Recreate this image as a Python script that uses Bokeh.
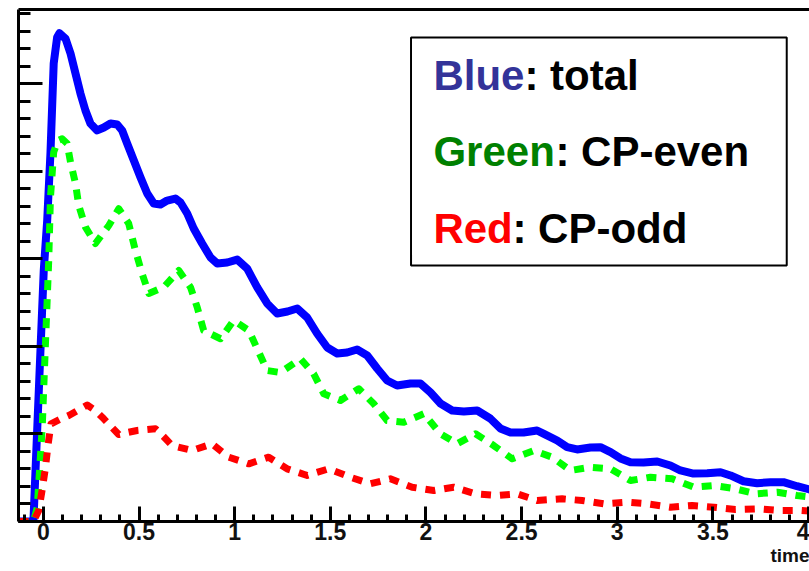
from bokeh.plotting import figure
from bokeh.models import Range1d, LinearAxis, FixedTicker, BoxAnnotation, Label, Title
from bokeh.embed import file_html
from bokeh.resources import INLINE

# ---- data ----
t_total = [-0.13, -0.052, 0.002, 0.020, 0.037, 0.054, 0.072, 0.084, 0.116, 0.142, 0.168,
           0.194, 0.220, 0.246, 0.281, 0.316, 0.351, 0.386, 0.412, 0.438, 0.473, 0.508,
           0.543, 0.577, 0.612, 0.647, 0.690, 0.717, 0.752, 0.786, 0.830, 0.874, 0.909,
           0.961, 1.013, 1.065, 1.118, 1.170, 1.222, 1.276, 1.327, 1.379, 1.431, 1.484,
           1.536, 1.588, 1.640, 1.693, 1.745, 1.797, 1.849, 1.919, 1.971, 2.024, 2.076,
           2.137, 2.198, 2.268, 2.336, 2.389, 2.442, 2.510, 2.581, 2.614, 2.686, 2.738,
           2.790, 2.860, 2.912, 2.965, 3.017, 3.069, 3.137, 3.209, 3.278, 3.330, 3.398,
           3.470, 3.540, 3.592, 3.660, 3.731, 3.801, 3.869, 3.940, 4.005, 4.036]
total = [0, 0, 2.868, 3.439, 4.205, 5.233, 5.534, 5.579, 5.515, 5.347, 5.119,
         4.890, 4.696, 4.548, 4.468, 4.502, 4.548, 4.536, 4.468, 4.319, 4.125, 3.931,
         3.748, 3.633, 3.622, 3.667, 3.690, 3.645, 3.519, 3.348, 3.176, 3.016, 2.948,
         2.959, 2.993, 2.891, 2.674, 2.491, 2.377, 2.399, 2.434, 2.331, 2.148, 1.988,
         1.920, 1.931, 1.965, 1.897, 1.748, 1.611, 1.554, 1.577, 1.577, 1.474, 1.348,
         1.268, 1.257, 1.268, 1.177, 1.063, 1.017, 1.017, 1.040, 1.005, 0.925, 0.849,
         0.823, 0.846, 0.849, 0.792, 0.720, 0.678, 0.674, 0.686, 0.640, 0.583, 0.548,
         0.552, 0.563, 0.526, 0.460, 0.438, 0.449, 0.449, 0.403, 0.366, 0.343]

t_even = [-0.13, -0.052, -0.032, -0.006, 0.011, 0.028, 0.037, 0.054, 0.076, 0.098, 0.124,
          0.142, 0.168, 0.185, 0.220, 0.272, 0.342, 0.394, 0.446, 0.481, 0.516, 0.551,
          0.629, 0.708, 0.769, 0.804, 0.838, 0.926, 0.995, 1.074, 1.118, 1.170, 1.239,
          1.344, 1.413, 1.466, 1.553, 1.649, 1.727, 1.797, 1.884, 1.989, 2.076, 2.163,
          2.259, 2.354, 2.451, 2.564, 2.660, 2.755, 2.860, 2.965, 3.069, 3.174, 3.287,
          3.400, 3.505, 3.618, 3.723, 3.837, 3.940, 4.036]
cp_even = [0, 0, 0.160, 1.074, 2.034, 2.982, 3.702, 4.220, 4.353, 4.373, 4.319,
           4.105, 3.862, 3.611, 3.363, 3.176, 3.382, 3.573, 3.405, 3.097, 2.834, 2.605,
           2.677, 2.868, 2.677, 2.449, 2.182, 2.088, 2.297, 2.182, 1.973, 1.725, 1.702,
           1.859, 1.688, 1.459, 1.383, 1.516, 1.345, 1.154, 1.135, 1.231, 1.002, 0.888,
           1.002, 0.868, 0.716, 0.811, 0.735, 0.583, 0.620, 0.602, 0.468, 0.506, 0.488,
           0.392, 0.411, 0.374, 0.316, 0.335, 0.297, 0.274]

t_odd = [-0.13, -0.052, -0.024, -0.006, 0.011, 0.024, 0.040, 0.084, 0.133, 0.178, 0.229,
         0.272, 0.316, 0.394, 0.440, 0.490, 0.586, 0.628, 0.673, 0.778, 0.882, 0.969,
         1.074, 1.178, 1.274, 1.379, 1.492, 1.605, 1.710, 1.814, 1.928, 2.041, 2.145,
         2.259, 2.372, 2.477, 2.581, 2.712, 2.817, 2.929, 3.052, 3.156, 3.278, 3.392,
         3.505, 3.618, 3.731, 3.844, 3.957, 4.036]
cp_odd = [0, 0, 0.126, 0.366, 0.617, 0.868, 1.116, 1.165, 1.211, 1.268, 1.331,
          1.268, 1.173, 0.994, 1.017, 1.040, 1.059, 0.971, 0.868, 0.811, 0.888, 0.735,
          0.659, 0.735, 0.602, 0.526, 0.602, 0.506, 0.431, 0.488, 0.392, 0.354, 0.392,
          0.316, 0.297, 0.316, 0.240, 0.259, 0.240, 0.202, 0.221, 0.202, 0.163, 0.183,
          0.163, 0.137, 0.145, 0.126, 0.126, 0.114]

x_ticks = [0, 0.5, 1, 1.5, 2, 2.5, 3, 3.5, 4]
legend_words = ["Blue", "Green", "Red"]
legend_rest = [": total", ": CP-even", ": CP-odd"]
legend_colors = ["#333399", "#008000", "#ff0000"]
axis_title = "time"

# ---- figure ----
X0, X1 = -0.13, 4.005
Y0, Y1 = 0.0, 5.85
p = figure(width=809, height=571, output_backend="svg", toolbar_location=None,
           x_range=Range1d(X0, X1), y_range=Range1d(Y0, Y1),
           x_axis_location=None, y_axis_location=None,
           min_border_left=18, min_border_right=0, min_border_top=9, min_border_bottom=50)
p.outline_line_color = None
p.xgrid.visible = False
p.ygrid.visible = False
p.background_fill_color = "white"
p.border_fill_color = "white"

FONT = "Liberation Sans"

xaxis = LinearAxis(ticker=FixedTicker(ticks=x_ticks,
                                      minor_ticks=[round(i * 0.1, 2) for i in range(-1, 41)]))
xaxis.axis_line_width = 3
xaxis.major_tick_in = 15
xaxis.major_tick_out = 0
xaxis.minor_tick_in = 7
xaxis.minor_tick_out = 0
xaxis.major_tick_line_width = 3
xaxis.minor_tick_line_width = 3
xaxis.major_label_text_font = FONT
xaxis.major_label_text_font_style = "bold"
xaxis.major_label_text_font_size = "23px"
xaxis.major_label_text_color = "#111111"
xaxis.major_label_standoff = 1
xaxis.major_label_overrides = {0: "0", 1: "1", 2: "2", 3: "3", 4: "4"}
p.add_layout(xaxis, "below")

# axis title, right-aligned under the axis
p.add_layout(Title(text=axis_title, align="right", text_font=FONT, text_font_style="bold",
                   text_font_size="19px", text_color="#111111", standoff=0, offset=0),
             "below")

yaxis = LinearAxis(ticker=FixedTicker(ticks=[0, 1, 2, 3, 4, 5],
                                      minor_ticks=[round(i * 0.2, 2) for i in range(0, 30)]))
yaxis.axis_line_width = 3
yaxis.major_tick_in = 24
yaxis.major_tick_out = 0
yaxis.minor_tick_in = 12
yaxis.minor_tick_out = 0
yaxis.major_tick_line_width = 3
yaxis.minor_tick_line_width = 3
yaxis.major_label_text_font_size = "6px"
yaxis.major_label_text_color = None
yaxis.major_label_standoff = 0
p.add_layout(yaxis, "left")

topaxis = LinearAxis(ticker=FixedTicker(ticks=[], minor_ticks=[]))
topaxis.axis_line_width = 3
topaxis.major_tick_in = 0
topaxis.major_tick_out = 0
topaxis.minor_tick_in = 0
topaxis.minor_tick_out = 0
topaxis.major_label_text_color = None
topaxis.major_label_standoff = 0
p.add_layout(topaxis, "above")

# ---- curves ----
p.line(t_total, total, line_color="#0000ff", line_width=8, line_join="round")
p.line(t_even, cp_even, line_color="#00ff00", line_width=7, line_dash="10 9", line_join="round")
p.line(t_odd, cp_odd, line_color="#ff0000", line_width=7, line_dash="10 9", line_join="round")

# ---- legend box ----
box = BoxAnnotation(left=1.922, right=3.886, top=5.531, bottom=2.926,
                    fill_color="white", fill_alpha=1.0, line_color="black", line_width=2,
                    line_alpha=1.0)
p.add_layout(box)

word_widths = [91, 122, 79]
ys = [5.096, 4.228, 3.348]
for w, rest, c, ww, yy in zip(legend_words, legend_rest, legend_colors, word_widths, ys):
    p.add_layout(Label(x=2.039, y=yy, text=w, text_color=c, text_font=FONT,
                       text_font_style="bold", text_font_size="42px",
                       text_baseline="alphabetic", text_align="left"))
    p.add_layout(Label(x=2.039, y=yy, x_offset=ww, text=rest, text_color="black",
                       text_font=FONT, text_font_style="bold", text_font_size="42px",
                       text_baseline="alphabetic", text_align="left"))

open("out.html", "w").write(file_html(p, INLINE))
